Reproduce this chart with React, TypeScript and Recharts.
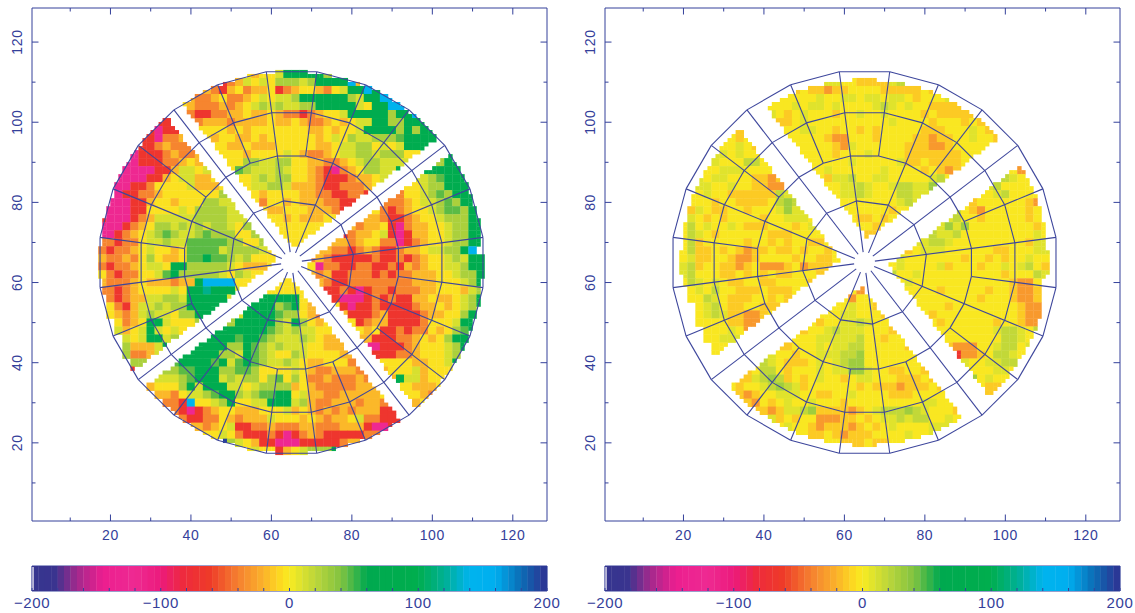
import React from "react";
import { ScatterChart, Scatter, XAxis, YAxis } from "recharts";

const INK = "#34409a";
const FONT = "'Liberation Sans', Arial, sans-serif";

const levelChars = "mroaylgGEcbn";
const leftLevelValues = [-125, -68, -38, -18, -4, 11, 26, 46, 80, 118, 145, 195];
const rightLevelValues = [-125, -68, -30, -12, -2, 8, 18, 30, 80, 118, 145, 195];

const stopValues = [-200, -182, -165, -145, -120, -100, -82, -62, -40, -20, -6, 0, 20, 40, 60, 100, 122, 140, 160, 180, 200];
const stopColors = ["#35358f", "#3a348f", "#a2298d", "#ec1e8f", "#ee2a92", "#ec1a7c", "#ee2a3c", "#ee3a28", "#f58030", "#fbb22a", "#fcdc20", "#f8ec22", "#bcd63a", "#82c341", "#00a94f", "#00ae4e", "#00b09a", "#00b4ee", "#00aeef", "#0b6cb5", "#2e3192"];

const barSteps = [-197.5,-192.5,-187.5,-182.5,-177.5,-172.5,-167.5,-162.5,-157.5,-152.5,-147.5,-142.5,-137.5,-132.5,-127.5,-122.5,-117.5,-112.5,-107.5,-102.5,-97.5,-92.5,-87.5,-82.5,-77.5,-72.5,-67.5,-62.5,-57.5,-52.5,-47.5,-42.5,-37.5,-32.5,-27.5,-22.5,-17.5,-12.5,-7.5,-2.5,2.5,7.5,12.5,17.5,22.5,27.5,32.5,37.5,42.5,47.5,52.5,57.5,62.5,67.5,72.5,77.5,82.5,87.5,92.5,97.5,102.5,107.5,112.5,117.5,122.5,127.5,132.5,137.5,142.5,147.5,152.5,157.5,162.5,167.5,172.5,177.5,182.5,187.5,192.5,197.5];
const barEdge = [-199.2];
const barTicks = [-200,-180,-160,-140,-120,-100,-80,-60,-40,-20,0,20,40,60,80,100,120,140,160,180,200];
const barLabels = [-200, -100, 0, 100, 200];
const axisTicks = [10,20,30,40,50,60,70,80,90,100,110,120];

const ringRadii = [15.5, 26.8, 37.7, 48];
const fullSpokes = [22.5,52.5,82.5,112.5,142.5,172.5,202.5,232.5,262.5,292.5,322.5,352.5];
const halfSpokes = [7.5,37.5,67.5,97.5,127.5,157.5,187.5,217.5,247.5,277.5,307.5,337.5];
const gapSpokes = [52.5,142.5,232.5,322.5];
const CENTER = 65;

const leftRows = [
".................yyayylE|EEEEg",
"..............rroalylygg|glgEEEEbab",
"............oaorayoaayro|ayyaoylEEbEb",
"...........aooayooaylyll|gEEEEEEglEEbbb",
".........yyaoooaoaylglgl|lggEEEEElyEEbbb",
"........rraorrooaayaayao|oroayylEEEEEgEEbb",
".......rraaooaaaoaaaayaa|yaooayayllEEggEEEb",
".....rrmrraayyyyayayyyyy|yyaayayylEEEEgEgEEb",
"....rrrmooaaayayyaayayyy|yyyaylygllgggGEEEEbb",
"...rrrroaoooooyyaayaaayy|yyyaayllggylylEEEEEcE",
"..mmmrrroaooaayyyyayyyyl|yaooayllgglgggyyEEEEEb",
"..mmmrrrooayayyyyyggllgg|yyaaooaylgglllllEEgEEc",
"..mmmmmrrallylyyyGglllgl|yyaormoayggllEEEEEEEEcc",
".mmmmmrrayllaayllyylglgg|yyaorrroaaylyylllgGEEEc",
".mmmrroyyyylaaayyyyllggl|aaaorroooayyylyylggEEEcb",
".mrrooayyyyyyyglаayayyy|yaaoorroorooooyylgGgEEEc",
".mmmrrayyayyygglllly" + "oyya|yaaaoorrorooooayllgGgEEc",
"mmmmrryyyylygggglllyyaay|yyaaaorroyyoroayylgGGgEE",
"rmmmroalllllggggllllyyya|yaaayyyyyaaorroayylgggEE",
"mmmroaygglglglgglygyyyyy|yyyyyyaaoaayrmoaayylggEE",
"mmroaylgGgllgGgggyygyyyy|yyyyyyroaaylrmraayylggEE",
"oorooyllgllGGGGGggyyglyy|yyyyyaaoayyoomroayylggEE",
"orooaylyyayGGGGlggggl yyy|yyaaaooroaorroaayllggEb",
"aooaoygyaayGGEGGglgyyyyy|yyoaorrrrrorrorоayylglEE",
"orooayllyEEgggggl yaaayyy|yyymoorroorroraoayyllgEE",
"yorooyylGEgggggl ygl yyyyy|yyaoarrooororooaaayylggE",
"aoooayaaaoaaEbbbbyyllyyy|yyyaorrooooooooaaayyylgE",
"ooroayyyylyEEcEEElyyyyyy|yyyrrrormrooroooaayyyalgG",
".oroaallgglEEEEElyyyEEEE|EyyyrrmmmrororraayaaylgE",
".yorallglggEEEEllEEEEEgG|EyayyyrmrrorrrroaayaylgE",
".yaoalgllyggEEllllEEEEGg|gyaoaaarrroarrrroaayygEE",
"..yoayEElyyygEgggEEEEEgl|EgyayyyyroaarrrroyyylEEE",
"..laylElylylggEEEEEEEGgl|gllyyayyyayrrorooyaygGEE",
"...lylEElglllEEEEGEEGgll|lglyaayaaarrrooayaygEEE",
"...gaaalEEEEEEEEggEGglgl|llyyaaayammrrroayyylgEEE",
"...gooalggEEEEEgglEGglyy|glyyyyaayyrrrooayyylgEEE",
"....gglllGEEEEGElGEGgllg|lyaayyyooaayyyyaayylEEE",
"....rllgggGGEEEggGGgyyyy|lyaooaaaooaayyylayyyEEE",
".....oolllgGEEElglggygGy|gyooaoooaoaaaEllayyggg",
"......ayyygElEEEllylgggg|ayaoooooaaaaayyaaayy",
".......aaoyllgGEEglgGGEE|ylaaooaaaaayaayyaoyy",
"........oorbyylgEyyllEEE|lgaooaaaoaaoaayayyy",
".........ormroayyaaayyyl|ayaoaoaoaaarrayy",
"..........orrooyaoaaalyy|yayaoaaylоorrryy",
"...........aaoaylrrooaoo|oaaoooaaarmmry",
".............yylyorrrorm|roaorrrrroolg",
"..............Englyarrmm|mrrrrroaaygE",
".................yylyyra|ylgggEEE",
].map((s) => s.replace(/ /g, "").replace(/о/g, "o").replace(/а/g, "l"));

const rightRows = [
"|",
".................gyllyya|aaalg",
"...............ayaaoaayy|yyaaaaaya",
".............yyyyylyylly|llyllyayyyly",
"...........ayyylyllylyyy|ylglylyyaaaayy",
"...........ylyaylyyyayyl|yylyyyyayaaaaayy",
"........lgyyyaaylyyyyyyy|yyylyyyyayyyayaay",
".......yaygyyyyyllyyayya|yayyyyyaaayyylyaay",
"......yyayayyyyyyyyaooyy|yayyyyaaoaayylyyaoy",
".....lyylyayyyyyyyyyaoly|yyyyyaaaooayyyyylyl",
".....llylyyyyyyyyyyyayyy|lyyyyaaaaaaayyyyyyyy",
"....ylyyyggyyyyyyyyyyyly|yyyylaayaaaayyyyyaayy",
"....yylllyyyyaayyyylyyyy|yylyyyyayaoayyyllyyoy",
"...lyllyyyaaoayyyyyallgy|yllyyyyylgyyyylllglyy",
"..yllyylyyaaooyglyyyyllg|lyylggllGyyyyyylgyyyyy",
"..yylyyaaaaaaglglllyyllg|lyyyggllyyyyyayylgyyyy",
".yyyyayyaaaaygGgllyyyyyy|yyyylglyyyyyyayyyyyyaoy",
".yalyaayyayyylGllyylyyyy|yyyayyyyyyggyaoyyyyyay",
".ylyayayyyyayylllylyyyya|ayayyyyllllgyyayyyyyayy",
".ygylyylyaaayyyaylyyyyyy|yayayyllglGlGyyyyyyyyayy",
"yyglyayyyyyyaaayyyyyayaa|aaayyyylgllgyyyyyyyyyly",
"yygayyyyyayyayayyaayyayy|yyyyyyllgglyyyyyyyyyall",
"lygaayayaoaayaayayyayyyy|yyyyyaylllyyyyyyaayyyll",
"lylaayyaooayyyyayyaayyyy|yyyolyyyyyyyayyayayylyy",
"ylgayyaaoayoooayoaaayyyy|yyyylyyyylayyyayylylgya",
"ylgyyyaayayayaayyyayylyy|yyygyylyyyyyyyyyyayyyglya",
".yglylyaayyaayyyyayyyyyy|yyyyylyyyyyyyyyyyyaooy",
"..ylygyyaaayaaayyaayyyyo|aayylyyyyayyyyyayyaooa",
"..yyglyaaayyayaayyyyyyoy|yyyayyyyyyyyyyayyyaooa",
"...ylgyaayyaaaayyyyyyyly|yayyyyyyyyayyyyyyyyaooo",
"...ylglaaooayyyyyyyyylly|yyayyyyyayyyyyyyyyyaooa",
"...yyyyaaooaayyyyyayyllg|lyyyyyyyyayyyyyyayyaooy",
"....yyylyoaoayyyayylglll|yyyayyayayyyyyyylgglyg",
"....yylllaayyyyyyylllllg|yyayyyyyayyyyyyyygglyl",
".....yyyllyyyaayyylyllgg|yyyyyayyaaaoooyylggyl",
".....ylyyyyylyyayylllggG|yyyyyyyyyyyrooaygglyy",
"......lyyyyglyaaaylylgGG|yyyyyyyyaayylyyllggy",
".......yyayggyayyylyllGG|lyyaayyaooayyyyyllyy",
".......yaalgGgayayl yyayl|lyyyaaayaaaayGylyyyy",
".......yayylgGglayyyyyya|yaaaoaaayayyyyyaayy",
"........aoayylllyyaayyly|yyyaaayyyyylyyaaayg",
".........aoyaylyylyyyayy|yyyyyyyllyyyyyy",
"..........aaoallgGaaaaoa|ylgggGglyyyayy",
"...........ylayayyoooaay|ayllglggyylyyya",
".............ylyyaoaaaoa|yaylyyyylllya",
"...............yyaayaoaa|ayyyylyylly",
"..................yyyaaa|yaayyllyy",
"|",
].map((s) => s.replace(/ /g, ""));

type Cell = { x: number; y: number; v: number; s: number };

function colorOf(v: number): string {
  for (let i = 1; i < stopValues.length; i++) {
    if (v <= stopValues[i]) {
      const t = (v - stopValues[i - 1]) / (stopValues[i] - stopValues[i - 1]);
      const a = stopColors[i - 1], b = stopColors[i];
      const ch = (k: number) => {
        const p = parseInt(a.substr(k, 2), 16), q = parseInt(b.substr(k, 2), 16);
        return Math.round(p + (q - p) * t);
      };
      return `rgb(${ch(1)},${ch(3)},${ch(5)})`;
    }
  }
  return stopColors[stopColors.length - 1];
}

function inside(x: number, y: number, R: number, w: number): boolean {
  const dx = x - CENTER, dy = y - CENTER;
  const r = Math.hypot(dx, dy);
  if (r > R || r < 4.5) return false;
  for (const a of gapSpokes) {
    const t = (a * Math.PI) / 180;
    const along = dx * Math.sin(t) + dy * Math.cos(t);
    const perp = Math.abs(dx * Math.cos(t) - dy * Math.sin(t));
    if (along > 0 && perp < w) return false;
  }
  return true;
}

function buildCells(rows: string[], values: number[], R: number, w: number): Cell[] {
  const out: Cell[] = [];
  rows.forEach((row, j) => {
    const [l, r] = row.split("|");
    const full = (l || "").padStart(24, ".").slice(-24) + (r || "").padEnd(24, ".").slice(0, 24);
    for (let c = 0; c < 48; c++) {
      const idx = levelChars.indexOf(full[c]);
      if (idx < 0) continue;
      const v = values[idx];
      const cx = 18 + 2 * c, cy = 112 - 2 * j;
      const subs = [[-0.5, -0.5], [0.5, -0.5], [-0.5, 0.5], [0.5, 0.5]].filter(([a, b]) => inside(cx + a, cy + b, R, w));
      if (subs.length === 4) out.push({ x: cx, y: cy, v, s: 2 });
      else subs.forEach(([a, b]) => out.push({ x: cx + a, y: cy + b, v, s: 1 }));
    }
  });
  return out;
}

const polar = (deg: number, r: number) => {
  const t = (deg * Math.PI) / 180;
  return { x: CENTER + r * Math.sin(t), y: CENTER + r * Math.cos(t) };
};

function gridSegments() {
  const segs: { x: number; y: number }[][] = [];
  const all = [...fullSpokes, ...halfSpokes].sort((a, b) => a - b);
  fullSpokes.forEach((a) => segs.push([polar(a, 2.6), polar(a, ringRadii[3])]));
  halfSpokes.forEach((a) => segs.push([polar(a, ringRadii[1]), polar(a, ringRadii[3])]));
  fullSpokes.forEach((a, i) => segs.push([polar(a, ringRadii[0]), polar(fullSpokes[(i + 1) % 12], ringRadii[0])]));
  ringRadii.slice(1).forEach((r) => all.forEach((a, i) => segs.push([polar(a, r), polar(all[(i + 1) % 24], r)])));
  return segs;
}
const segments = gridSegments();

const PX = 515 / 128;

const CellShape = (p: any) => {
  const d = p.payload || p;
  const size = d.s * PX + 0.35;
  return <rect x={p.cx - size / 2} y={p.cy - size / 2} width={size} height={size} fill={colorOf(d.v)} />;
};
const NoShape = () => null;

const tickLen = (v: number) => (v % 20 === 0 ? 6.5 : 3.5);
const txt = { fill: INK, fontFamily: FONT, fontSize: 14, letterSpacing: 0.6 } as const;

const BottomTick = ({ x, y, payload }: any) => (
  <g>
    <line x1={x} x2={x} y1={y} y2={y - tickLen(payload.value)} stroke={INK} strokeWidth={1} />
    {payload.value % 20 === 0 && <text x={x} y={y + 19} textAnchor="middle" {...txt}>{payload.value}</text>}
  </g>
);
const TopTick = ({ x, y, payload }: any) => (
  <line x1={x} x2={x} y1={y} y2={y + tickLen(payload.value)} stroke={INK} strokeWidth={1} />
);
const LeftTick = ({ x, y, payload }: any) => (
  <g>
    <line x1={x} x2={x + tickLen(payload.value)} y1={y} y2={y} stroke={INK} strokeWidth={1} />
    {payload.value % 20 === 0 && (
      <text x={0} y={0} transform={`translate(${x - 10.5},${y}) rotate(-90)`} textAnchor="middle" {...txt}>{payload.value}</text>
    )}
  </g>
);
const RightTick = ({ x, y, payload }: any) => (
  <line x1={x} x2={x - tickLen(payload.value)} y1={y} y2={y} stroke={INK} strokeWidth={1} />
);

function Panel({ rows, values, R, w, left }: { rows: string[]; values: number[]; R: number; w: number; left: number }) {
  const cells = buildCells(rows, values, R, w);
  const axisLine = { stroke: INK, strokeWidth: 1 };
  return (
    <div style={{ position: "absolute", left, top: 0 }}>
      <ScatterChart width={555} height={550} margin={{ top: 7, left: 31, right: 7, bottom: 28 }}>
        <XAxis xAxisId="b" type="number" dataKey="x" domain={[0.5, 128.5]} ticks={axisTicks} interval={0} height={1} orientation="bottom" tickSize={0} tickMargin={0} tick={BottomTick} axisLine={axisLine} allowDataOverflow />
        <XAxis xAxisId="t" type="number" dataKey="x" domain={[0.5, 128.5]} ticks={axisTicks} interval={0} height={1} orientation="top" tickSize={0} tickMargin={0} tick={TopTick} axisLine={axisLine} allowDataOverflow />
        <YAxis yAxisId="l" type="number" dataKey="y" domain={[0.5, 128.5]} ticks={axisTicks} interval={0} width={1} orientation="left" tickSize={0} tickMargin={0} tick={LeftTick} axisLine={axisLine} allowDataOverflow />
        <YAxis yAxisId="r" type="number" dataKey="y" domain={[0.5, 128.5]} ticks={axisTicks} interval={0} width={1} orientation="right" tickSize={0} tickMargin={0} tick={RightTick} axisLine={axisLine} allowDataOverflow />
        <Scatter data={cells} xAxisId="b" yAxisId="l" shape={CellShape} isAnimationActive={false} />
        {segments.map((s, i) => (
          <Scatter key={i} data={s} xAxisId="b" yAxisId="l" shape={NoShape} line={{ stroke: "#3d469c", strokeWidth: 1.1 }} isAnimationActive={false} />
        ))}
      </ScatterChart>
    </div>
  );
}

const BarCell = (p: any) => {
  const d = p.payload || p;
  return <rect x={p.cx - 3.4} y={p.cy - 12.5} width={6.8} height={25} fill={colorOf(d.v)} />;
};
const BarEdgeCell = (p: any) => <rect x={p.cx - 0.6} y={p.cy - 11.5} width={1.2} height={23} fill="#fff" />;
const BarBottomTick = ({ x, y, payload }: any) => (
  <g>
    <line x1={x} x2={x} y1={y} y2={y - 3} stroke={INK} strokeWidth={1} />
    {barLabels.includes(payload.value) && (
      <text x={x} y={y + 17} textAnchor="middle" {...txt} fontSize={15}>{payload.value < 0 ? `\u2212${-payload.value}` : payload.value}</text>
    )}
  </g>
);
const BarTopTick = ({ x, y }: any) => <line x1={x} x2={x} y1={y} y2={y + 3} stroke={INK} strokeWidth={1} />;

function ColorBar({ left }: { left: number }) {
  const data = barSteps.map((v) => ({ x: v, y: 0.5, v }));
  const edge = barEdge.map((v) => ({ x: v, y: 0.5, v }));
  const axisLine = { stroke: INK, strokeWidth: 1 };
  return (
    <div style={{ position: "absolute", left, top: 555 }}>
      <ScatterChart width={590} height={58} margin={{ top: 10, left: 31, right: 42, bottom: 21 }}>
        <XAxis xAxisId="b" type="number" dataKey="x" domain={[-200, 200]} ticks={barTicks} interval={0} height={1} tickSize={0} tickMargin={0} tick={BarBottomTick} axisLine={axisLine} />
        <XAxis xAxisId="t" type="number" dataKey="x" domain={[-200, 200]} ticks={barTicks} interval={0} height={1} orientation="top" tickSize={0} tickMargin={0} tick={BarTopTick} axisLine={axisLine} />
        <YAxis yAxisId="l" type="number" dataKey="y" domain={[0, 1]} ticks={[]} width={1} tick={false} axisLine={axisLine} />
        <YAxis yAxisId="r" type="number" dataKey="y" domain={[0, 1]} ticks={[]} width={1} orientation="right" tick={false} axisLine={axisLine} />
        <Scatter data={data} xAxisId="b" yAxisId="l" shape={BarCell} isAnimationActive={false} />
        <Scatter data={edge} xAxisId="b" yAxisId="l" shape={BarEdgeCell} isAnimationActive={false} />
      </ScatterChart>
    </div>
  );
}

export default function App() {
  return (
    <div style={{ position: "absolute", left: 0, top: 0, width: 1135, height: 613, background: "#fff", overflow: "hidden" }}>
      <Panel rows={leftRows} values={leftLevelValues} R={47.7} w={2.5} left={0} />
      <Panel rows={rightRows} values={rightLevelValues} R={45.6} w={4.3} left={572.5} />
      <ColorBar left={0} />
      <ColorBar left={572.5} />
    </div>
  );
}
